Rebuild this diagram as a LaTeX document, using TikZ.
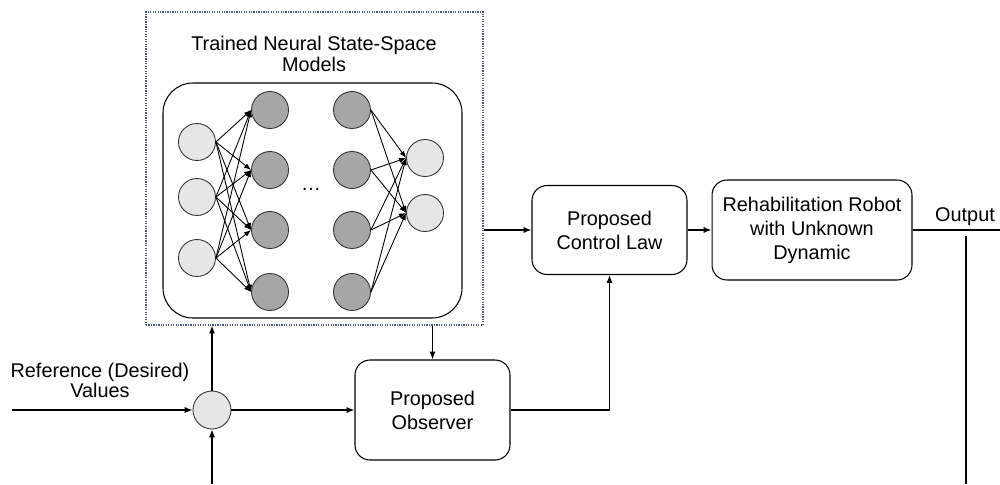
\documentclass[tikz,border=0pt]{standalone}
\usepackage{fontspec}
\setmainfont{Liberation Sans}
\usetikzlibrary{positioning,calc,arrows.meta}
\definecolor{lightnode}{HTML}{E6E6E6}
\definecolor{darknode}{HTML}{A6A6A6}
\definecolor{framecol}{HTML}{44546A}

\begin{document}
\begin{tikzpicture}[
    x=0.02cm, y=-0.02cm,
    every node/.style={font=\fontsize{11.3}{13.6}\selectfont},
    arr/.style={-{Latex[length=4.5pt,width=3.5pt]}, line width=0.7pt},
    plain/.style={line width=0.7pt},
    netarr/.style={-{Latex[length=4pt,width=3pt]}, line width=0.5pt},
    innode/.style={
        circle, draw=black!80, fill=lightnode, line width=0.5pt, minimum size=0.74cm, inner sep=0pt
      },
    hidnode/.style={
        circle, draw=black!80, fill=darknode, line width=0.5pt, minimum size=0.74cm, inner sep=0pt
      },
    sumnode/.style={
        circle, draw=black!80, fill=lightnode, line width=0.5pt, minimum size=0.76cm, inner sep=0pt
      },
    blockbox/.style={
        draw=black, rounded corners=0.3cm, line width=0.6pt, align=center, inner sep=0pt
      },
    framebox/.style={
        draw=framecol, line width=0.7pt, dash pattern=on 0.7pt off 0.7pt,
        minimum width=6.74cm, minimum height=6.26cm, inner sep=0pt
      },
  ]
  \useasboundingbox (0,0) rectangle (1000,484);

  % neural state-space model
  \node[framebox] (nssm) at (314.5,168.5) {};
  \node[align=center, font=\fontsize{11.3}{11.5}\selectfont] (title) at (314,54)
    {Trained Neural State-Space\\Models};
  \draw[line width=0.6pt, rounded corners=0.6cm] (163,83) rectangle (462,318);

  \foreach \i/\y in {1/142, 2/197, 3/258}
    \node[innode] (in\i) at (197,\y) {};
  \foreach \j/\y in {1/110, 2/170, 3/230, 4/292} {
    \node[hidnode] (ha\j) at (270,\y) {};
    \node[hidnode] (hb\j) at (352,\y) {};
  }
  \foreach \k/\y in {1/158, 2/213}
    \node[innode] (out\k) at (425,\y) {};
  \node (dots) at (311,189) {\dots};

  \foreach \i in {1,2,3}
    \foreach \j in {1,2,3,4}
      \draw[netarr] (in\i.east) -- (ha\j.west);
  \foreach \j in {1,2,3,4}
    \foreach \k in {1,2}
      \draw[netarr] (hb\j.east) -- (out\k.west);

  % control loop blocks
  \node[blockbox, minimum width=3.1cm, minimum height=1.78cm] (control) at (609.5,230)
    {Proposed\\Control Law};
  \node[blockbox, minimum width=4cm, minimum height=2cm] (robot) at (812,230)
    {Rehabilitation Robot\\with Unknown\\Dynamic};
  \node[blockbox, minimum width=3.1cm, minimum height=2cm] (observer) at (432.5,410)
    {Proposed\\Observer};
  \node[sumnode] (sum) at (212,410) {};

  \node[align=center, font=\fontsize{11.3}{11.5}\selectfont] (reflbl) at (100,380)
    {Reference (Desired)\\Values};
  \node (outlbl) at (965,217) {Output};

  \coordinate (refin) at (12,410);
  \coordinate (fbin) at (212,484);
  \coordinate (outend) at (1000,230);
  \coordinate (fbtop) at (966,236);
  \coordinate (fbbot) at (966,484);

  \draw[arr] (refin) -- (sum.west);
  \draw[arr] (fbin) -- (sum.south);
  \draw[arr] (sum.north) -- (sum.north |- nssm.south);
  \draw[arr] (sum.east) -- (observer.west);
  \draw[arr] (nssm.south -| observer.north) -- (observer.north);
  \draw[arr] (nssm.east |- control.west) -- (control.west);
  \draw[arr] (observer.east) -| (control.south);
  \draw[arr] (control.east) -- (robot.west |- control.east);
  \draw[plain] (robot.east |- outend) -- (outend);
  \draw[plain] (fbtop) -- (fbbot);
\end{tikzpicture}
\end{document}
